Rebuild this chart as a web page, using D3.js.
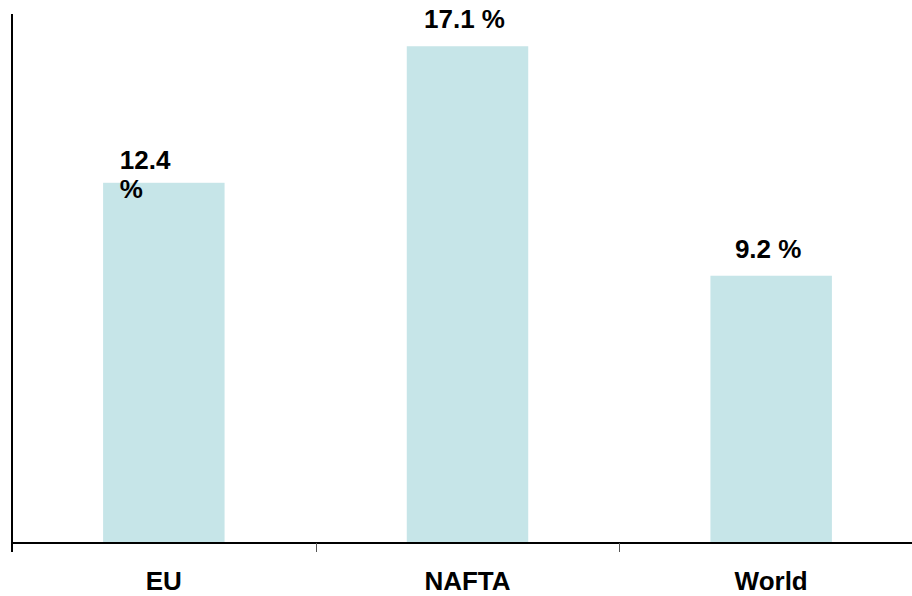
<!DOCTYPE html>
<html>
<head>
<meta charset="utf-8">
<script src="https://cdn.jsdelivr.net/npm/d3@7"></script>
<style>
  body { margin: 0; background: #fff; }
  text { font-family: "Liberation Sans", Arial, sans-serif; font-weight: bold; fill: #000; }
</style>
</head>
<body>
<div id="chart"></div>
<script>
var regions = ["EU", "NAFTA", "World"];
var shares = [12.4, 17.1, 9.2];
var valueLabels = [["12.4", "%"], ["17.1 %"], ["9.2 %"]];

function barChart() {
    var svgWidth = 912, svgHeight = 596;
    var baseY = 543, left = 12;

    var svg = d3.select("#chart").append("svg")
        .attr("width", svgWidth)
        .attr("height", svgHeight);

    var x = d3.scaleBand().domain(regions).range([left, 923]).padding(0);
    var y = d3.scaleLinear().domain([0, 18]).range([baseY, baseY - 18 * 29.05]);
    var barW = x.bandwidth() * 0.4;

    var data = regions.map(function(r, i) {
        return {region: r, value: shares[i], label: valueLabels[i]};
    });

    // bars
    svg.selectAll(".bar")
        .data(data)
        .enter().append("rect")
        .attr("class", "bar")
        .attr("x", function(d) { return x(d.region) + x.bandwidth() / 2 - barW / 2; })
        .attr("width", barW)
        .attr("y", function(d) { return y(d.value); })
        .attr("height", function(d) { return baseY - y(d.value); })
        .style("fill", "#c6e5e8");

    // y axis line
    svg.append("line")
        .attr("x1", left).attr("x2", left)
        .attr("y1", 14).attr("y2", 552)
        .style("stroke", "#000").style("stroke-width", 2);

    // x axis line
    svg.append("line")
        .attr("x1", left).attr("x2", svgWidth)
        .attr("y1", baseY).attr("y2", baseY)
        .style("stroke", "#000").style("stroke-width", 2);

    // category ticks
    svg.selectAll(".tick")
        .data(regions.slice(1))
        .enter().append("line")
        .attr("x1", function(d) { return Math.round(x(d)) + 0.5; })
        .attr("x2", function(d) { return Math.round(x(d)) + 0.5; })
        .attr("y1", baseY).attr("y2", 552)
        .style("stroke", "#555").style("stroke-width", 1);

    // category labels
    svg.selectAll(".cat")
        .data(regions)
        .enter().append("text")
        .attr("class", "cat")
        .attr("x", function(d) { return x(d) + x.bandwidth() / 2; })
        .attr("y", 590)
        .attr("text-anchor", "middle")
        .style("font-size", "26px")
        .text(function(d) { return d; });

    // value labels
    var vl = svg.selectAll(".val")
        .data(data)
        .enter().append("text")
        .attr("class", "val")
        .style("font-size", "26px")
        .attr("text-anchor", function(d) { return d.label.length > 1 ? "start" : "middle"; });

    vl.each(function(d) {
        var cx = x(d.region) + x.bandwidth() / 2;
        var t = d3.select(this);
        if (d.label.length > 1) {
            d.label.forEach(function(s, i) {
                t.append("tspan")
                    .attr("x", cx - 44)
                    .attr("y", y(d.value) - 14 + i * 29)
                    .text(s);
            });
        } else {
            t.attr("x", cx - 3).attr("y", y(d.value) - 18).text(d.label[0]);
        }
    });
}
barChart();
</script>
</body>
</html>
